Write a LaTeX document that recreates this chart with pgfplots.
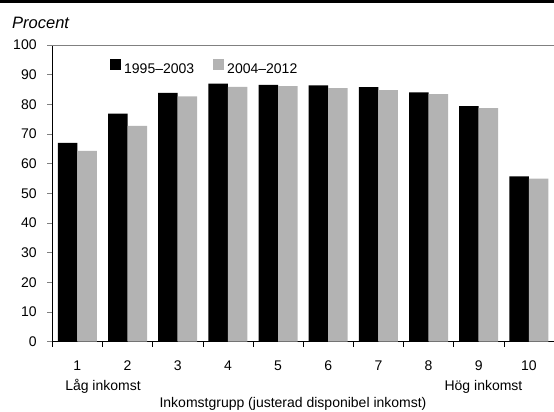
\documentclass[border=0pt]{standalone}
\usepackage{fontspec}
\setmainfont{Liberation Sans}
\setsansfont{Liberation Sans}
\usepackage{pgfplots}
\pgfplotsset{compat=1.18}

\definecolor{barblack}{RGB}{0,0,0}
\definecolor{bargray}{RGB}{179,179,179}
\definecolor{topline}{RGB}{128,128,128}

\begin{document}
\begin{tikzpicture}[font=\fontsize{14bp}{16bp}\selectfont]
\useasboundingbox (-52.3bp,-70.3bp) rectangle (501.7bp,341.7bp);
\begin{axis}[
    at={(0,0)}, anchor=south west,
    scale only axis,
    width=501.7bp, height=296.7bp,
    ybar=0pt,
    bar width=19.5bp,
    xmin=0.5, xmax=10.5,
    ymin=0, ymax=100,
    axis x line*=bottom,
    axis y line*=left,
    axis line style={line width=0.8bp, -},
    ytick={0,10,...,100},
    xtick={0.5,1.5,...,10.5},
    xticklabels={},
    extra x ticks={1,2,3,4,5,6,7,8,9,10},
    extra x tick labels={1,2,3,4,5,6,7,8,9,10},
    extra x tick style={major tick length=0pt},
    tick align=outside,
    major tick length=5bp,
    tick style={line width=0.6bp, black},
    ytick style={topline},
    /pgf/number format/assume math mode=true,
    ticklabel style={font=\fontsize{14bp}{16bp}\selectfont},
    xticklabel style={anchor=base, inner sep=0pt, yshift=-28.3bp},
    yticklabel style={anchor=east, inner sep=0pt, xshift=-10.5bp},
    legend style={draw=none, fill=none, legend columns=2,
        at={(0.109,0.96)}, anchor=north west,
        font=\fontsize{14bp}{16bp}\selectfont,
        nodes={inner sep=0pt},
        /tikz/every odd column/.append style={column sep=3bp},
        /tikz/every even column/.append style={column sep=19bp}},
    legend image code/.code={\fill[#1] (0bp,-0.5bp) rectangle (11bp,10.5bp);},
    clip=false,
]
\addplot[fill=barblack, draw=none] coordinates {
    (1,67.0) (2,76.9) (3,83.9) (4,87.0) (5,86.6)
    (6,86.4) (7,85.8) (8,84.0) (9,79.4) (10,55.7)};
\addplot[fill=bargray, draw=none] coordinates {
    (1,64.3) (2,72.7) (3,82.7) (4,85.9) (5,86.1)
    (6,85.5) (7,84.8) (8,83.4) (9,78.7) (10,55.0)};
\legend{1995--2003, 2004--2012}
\draw[topline, line width=0.8bp] (rel axis cs:0,1) -- (rel axis cs:1,1);
\end{axis}
% top rule and texts outside the axis
\fill[black] (-52.3bp,338.7bp) rectangle (501.7bp,341.7bp);
\node[anchor=base west, inner sep=0pt, font=\fontsize{16.5bp}{18bp}\selectfont\itshape] at (-40.3bp,312.7bp) {Procent};
\node[anchor=base, inner sep=0pt] at (50.7bp,-48.8bp) {Låg inkomst};
\node[anchor=base, inner sep=0pt] at (431.2bp,-48.8bp) {Hög inkomst};
\node[anchor=base, inner sep=0pt] at (240.7bp,-65.8bp) {Inkomstgrupp (justerad disponibel inkomst)};
\end{tikzpicture}
\end{document}
